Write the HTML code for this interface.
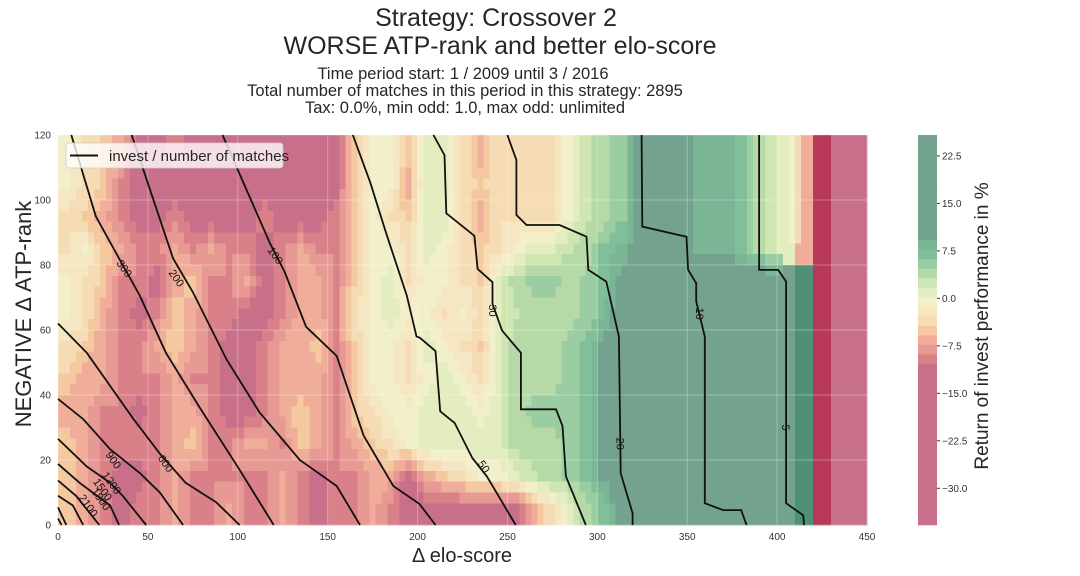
<!DOCTYPE html>
<html><head><meta charset="utf-8">
<style>
body{margin:0;background:#fff;width:1080px;height:576px;overflow:hidden;font-family:"Liberation Sans",Arial,sans-serif;}
svg{display:block}
</style></head>
<body>
<svg id="chart" width="1080" height="576" xmlns="http://www.w3.org/2000/svg">
<g fill="#262626" text-anchor="middle">
<text x="496" y="26" font-size="25">Strategy: Crossover 2</text>
<text x="500" y="54" font-size="25">WORSE ATP-rank and better elo-score</text>
<text x="463" y="79" font-size="16.5">Time period start: 1 / 2009 until 3 / 2016</text>
<text x="465" y="96" font-size="16.5">Total number of matches in this period in this strategy: 2895</text>
<text x="465" y="113" font-size="16.5">Tax: 0.0%, min odd: 1.0, max odd: unlimited</text>
</g>
<g id="cells" shape-rendering="crispEdges"></g>
<g id="grid"></g>
<g id="lines"></g>
<g id="axes"></g>
<g id="cbar"></g>
<g>
<rect x="66" y="143" width="217" height="25" rx="3" fill="#fff" fill-opacity="0.78" stroke="#ccc" stroke-width="0.8"/>
<line x1="70" y1="155.5" x2="98" y2="155.5" stroke="#111" stroke-width="2"/>
<text x="109" y="161" font-size="15" fill="#262626">invest / number of matches</text>
</g>
<text x="462" y="562" font-size="20" fill="#262626" text-anchor="middle">Δ elo-score</text>
<text transform="translate(31,314) rotate(-90)" font-size="22" fill="#262626" text-anchor="middle">NEGATIVE Δ ATP-rank</text>
<text transform="translate(988,326) rotate(-90)" font-size="19" fill="#262626" text-anchor="middle">Return of invest performance in %</text>
</svg>
<script>
// Data: grid of return-% values, rows from top (y 110-120) to bottom (y 0-10), columns x 0..440 step 10
const xCats = [0,10,20,30,40,50,60,70,80,90,100,110,120,130,140,150,160,170,180,190,200,210,220,230,240,250,260,270,280,290,300,310,320,330,340,350,360,370,380,390,400,410,420,430,440];
const yCats = [110,100,90,80,70,60,50,40,30,20,10,0];
const r0 = [-1,-3,-5,-7,-12,-12,-9,-12,-12,-12,-12,-12,-12,-12,-12,-12,-5,-1,-1,-5,1,1,-3,-7,-3,-3,-3,-3,0,3,4,6,12,12,12,8,8,8,5,2,1,-6,-40,-12,-12];
const r1 = [-1,-3,-5,-9,-12,-12,-12,-12,-12,-12,-12,-12,-12,-12,-12,-12,-5,-1,-1,-7,1,1,-3,-5,-3,-3,-3,-3,0,3,4,6,12,12,12,8,8,8,5,2,1,-6,-40,-12,-12];
const r2 = [-3,-5,-7,-9,-12,-12,-9,-12,-12,-12,-12,-9,-12,-12,-12,-9,-5,-1,-3,-5,1,1,-3,-7,-3,-3,-3,-3,0,3,4,6,12,12,12,8,8,8,5,2,1,-6,-40,-12,-12];
const r3 = [-3,-1,-5,-7,-9,-9,-7,-9,-7,-9,-9,-12,-9,-7,-9,-9,-5,-1,-1,-3,1,-1,-3,-5,-3,-1,1,1,3,4,7,8,12,12,12,8,8,8,5,2,1,-6,-40,-12,-12];
const r4 = [-1,-3,-5,-9,-9,-12,-7,-5,-9,-9,-7,-12,-9,-7,-7,-9,-5,-1,1,-3,-1,-1,-3,-5,1,4,5,5,4,5,7,10,12,12,12,12,12,12,12,12,12,30,-40,-12,-12];
const r5 = [-1,-3,-7,-9,-12,-9,-5,-7,-9,-9,-12,-12,-9,-7,-7,-9,-3,-1,1,-1,-1,-3,-1,-3,1,3,4,4,4,5,8,12,12,12,12,12,12,12,12,12,12,30,-40,-12,-12];
const r6 = [-3,-5,-7,-9,-9,-7,-5,-7,-9,-12,-12,-9,-7,-7,-5,-9,-5,-1,-1,-3,1,-1,-3,-5,1,4,4,4,5,7,10,12,12,12,12,12,12,12,12,12,12,30,-40,-12,-12];
const r7 = [-5,-7,-7,-9,-9,-9,-7,-9,-9,-12,-12,-9,-7,-7,-7,-9,-5,-1,-1,-3,-1,1,-1,-3,1,4,4,4,5,7,10,12,12,12,12,12,12,12,12,12,12,30,-40,-12,-12];
const r8 = [-7,-7,-9,-9,-12,-9,-7,-7,-9,-12,-12,-9,-7,-5,-7,-9,-5,-3,-1,-1,1,1,1,-1,1,4,5,5,5,7,10,12,12,12,12,12,12,12,12,12,12,30,-40,-12,-12];
const r9 = [-5,-7,-9,-9,-9,-9,-7,-5,-9,-9,-7,-7,-9,-5,-7,-9,-7,-5,-3,-1,1,1,1,1,1,4,4,4,5,7,10,12,12,12,12,12,12,12,12,12,12,30,-40,-12,-12];
const r10 = [-5,-7,-9,-12,-12,-9,-7,-9,-9,-9,-9,-9,-7,-9,-12,-9,-9,-7,-7,-12,-7,-5,-3,-1,-1,1,3,4,5,7,10,12,12,12,12,12,12,12,12,12,12,30,-40,-12,-12];
const r11 = [-5,-7,-9,-12,-9,-9,-7,-9,-9,-7,-9,-9,-7,-9,-12,-9,-9,-7,-9,-12,-12,-12,-12,-12,-12,-12,-7,-3,1,4,7,12,12,12,12,12,12,12,12,12,12,30,-40,-12,-12];
const grid = [r0,r1,r2,r3,r4,r5,r6,r7,r8,r9,r10,r11];

// contour lines of invest / number of matches: [x, y] pairs in data units
const levelLabels = ["100","200","300","600","900","1200","1500","1800","2100","50","30","20","10","5"];
const c100 = [[91.5,120],[118,86.6],[126,78],[138,61],[155,52],[170,27.5],[186.5,12],[201,6.5],[210,0]];
const c200 = [[41,120],[64,82],[75,71.7],[93.7,51],[112,34.7],[134.5,20],[155,12],[168,0]];
const c300 = [[7.4,120],[21,95],[34,82],[45.5,70.6],[60,53],[79,36],[101,17],[120,0]];
const c600 = [[0,62],[16,53],[42,32.6],[56.6,22],[71,13],[88,7],[101,0]];
const c900 = [[0,38.8],[14,32.6],[28.8,23.4],[45.5,16],[56.6,10],[69.6,0]];
const c1200 = [[0,26.5],[16,18],[29,13],[36,9],[49,0]];
const c1500 = [[0,18.8],[12,13],[29,6],[34,0]];
const c1800 = [[0,13.7],[10,9],[23,0]];
const c2100 = [[0,9],[8.3,6],[14,0]];
const c50 = [[164,120],[173.6,105.5],[183,89],[194,70.6],[199.4,58],[201.3,57.6],[210,53.5],[212.6,35],[220.6,31.4],[230.5,20.6],[238.5,15],[254.6,0]];
const c30 = [[208.8,120],[215,113.8],[216,95.9],[231.6,89],[233.4,78.8],[241.7,74.7],[241.7,68],[247,59.8],[257.5,53],[257.5,35.6],[277,35.6],[280.6,30.5],[282.5,15],[293.6,0]];
const c20 = [[250,120],[255,112.3],[255,95.4],[260.6,92.3],[279,92.3],[294,88.7],[295,78.5],[305,74.9],[312,58],[313,15.9],[319.6,3.6],[319.6,0]];
const c10 = [[324.6,120],[325,91.8],[349.6,88.7],[350.5,78.5],[355,74.4],[355,68.8],[359.8,58],[359.8,6.7],[370,4.6],[380,4.6],[383,0]];
const c5 = [[390,120],[390,78.5],[400.6,78.5],[405,74.9],[405,6.7],[414.5,3],[415,0]];
const c_small1 = [[0,5.4],[4.6,0]];
const c_small2 = [[0,2],[2,0]];
const labelPos = [[121,83],[66,76],[37,79],[60,19],[31,20],[30,13],[25,11],[24,8],[17,6],[237,18],[242,66],[313,25],[357,65],[405,30]];

const xTicks = [0,50,100,150,200,250,300,350,400,450];
const yTicks = [0,20,40,60,80,100,120];
const cbTicks = ["22.5","15.0","7.5","0.0","\u22127.5","\u221215.0","\u221222.5","\u221230.0"];
const cbTickVals = [22.5,15,7.5,0,-7.5,-15,-22.5,-30];

const X0=58,X1=867,Y0=525,Y1=135;
const sx = v => X0 + (v/450)*(X1-X0);
const sy = v => Y0 - (v/120)*(Y0-Y1);
const NS="http://www.w3.org/2000/svg";
function color(v){
  if(v<=-20) return "#b8385a";
  if(v<=-10.5) return "#c8708a";
  if(v<=-9) return "#d98088";
  if(v<=-7.5) return "#e79a94";
  if(v<=-6) return "#f0ae9a";
  if(v<=-4.5) return "#f5c9a0";
  if(v<=-3) return "#f6dcb4";
  if(v<=-1.5) return "#f6e7c3";
  if(v<=0) return "#f2efcb";
  if(v<=1.5) return "#e4edbf";
  if(v<=3) return "#d0e6b2";
  if(v<=4.5) return "#b5daa8";
  if(v<=6) return "#9acda1";
  if(v<=7.5) return "#80bf98";
  if(v<=9) return "#7ab596";
  if(v<30) return "#73a38e";
  return "#4f9176";
}
const nR=yCats.length, nC=xCats.length;
function val(r,c){r=Math.max(0,Math.min(nR-1,r));c=Math.max(0,Math.min(nC-1,c));return grid[r][c];}
const SUB=3;
const cells=document.getElementById('cells');
for(let r=0;r<nR;r++){
  for(let c=0;c<nC;c++){
    for(let i=0;i<SUB;i++){for(let j=0;j<SUB;j++){
      // position in cell-center coords
      const fr=r+(i+0.5)/SUB-0.5, fc=c+(j+0.5)/SUB-0.5;
      const r0i=Math.floor(fr), c0i=Math.floor(fc), tr=fr-r0i, tc=fc-c0i;
      const a=val(r0i,c0i), b=val(r0i,c0i+1), d=val(r0i+1,c0i), e=val(r0i+1,c0i+1);
      let v;
      if([a,b,d,e].some(q=>q<=-20||q>=30)) v=grid[r][c];
      else v=(a*(1-tc)+b*tc)*(1-tr)+(d*(1-tc)+e*tc)*tr;
      const el=document.createElementNS(NS,'rect');
      const x=sx(xCats[c]+10*j/SUB), x2=sx(xCats[c]+10*(j+1)/SUB);
      const y=sy(yCats[r]+10-10*i/SUB), y2=sy(yCats[r]+10-10*(i+1)/SUB);
      el.setAttribute('x',x.toFixed(2));el.setAttribute('y',y.toFixed(2));
      el.setAttribute('width',(x2-x+0.5).toFixed(2));el.setAttribute('height',(y2-y+0.5).toFixed(2));
      el.setAttribute('fill',color(v));
      
      
      cells.appendChild(el);
    }}
  }
}
const g=document.getElementById('grid');
xTicks.forEach(t=>{const l=document.createElementNS(NS,'line');l.setAttribute('x1',sx(t));l.setAttribute('x2',sx(t));l.setAttribute('y1',Y1);l.setAttribute('y2',Y0);l.setAttribute('stroke','#fff');l.setAttribute('stroke-opacity','0.3');


g.appendChild(l);});
yTicks.forEach(t=>{const l=document.createElementNS(NS,'line');l.setAttribute('y1',sy(t));l.setAttribute('y2',sy(t));l.setAttribute('x1',X0);l.setAttribute('x2',X1);l.setAttribute('stroke','#fff');l.setAttribute('stroke-opacity','0.3');


g.appendChild(l);});

const lines=document.getElementById('lines');
[c100,c200,c300,c600,c900,c1200,c1500,c1800,c2100,c50,c30,c20,c10,c5,c_small1,c_small2].forEach(pts=>{
  const p=document.createElementNS(NS,'polyline');
  p.setAttribute('points',pts.map(q=>sx(q[0]).toFixed(1)+','+sy(q[1]).toFixed(1)).join(' '));
  p.setAttribute('fill','none');p.setAttribute('stroke','#111');p.setAttribute('stroke-width','1.8');
  
  
  lines.appendChild(p);
});
levelLabels.forEach((lab,i)=>{
  const t=document.createElementNS(NS,'text');
  const x=sx(labelPos[i][0]), y=sy(labelPos[i][1]);
  const ang = i<10 ? 55 : 90;
  t.setAttribute('transform','translate('+x.toFixed(1)+','+y.toFixed(1)+') rotate('+ang+')');
  t.setAttribute('font-size','11');t.setAttribute('fill','#111');t.setAttribute('text-anchor','middle');t.setAttribute('dy','4');
  t.textContent=lab;
  
  
  lines.appendChild(t);
});

const ax=document.getElementById('axes');
xTicks.forEach(t=>{const e=document.createElementNS(NS,'text');e.setAttribute('x',sx(t));e.setAttribute('y',540);e.setAttribute('font-size','10');e.setAttribute('fill','#333');e.setAttribute('text-anchor','middle');e.textContent=t;


ax.appendChild(e);});
yTicks.forEach(t=>{const e=document.createElementNS(NS,'text');e.setAttribute('x',51);e.setAttribute('y',sy(t)+3.5);e.setAttribute('font-size','10');e.setAttribute('fill','#333');e.setAttribute('text-anchor','end');e.textContent=t;


ax.appendChild(e);});

const cb=document.getElementById('cbar');
const CB0=-35.8, CB1=25.8, CX=918, CW=19;
const cy = v => 525 - (v-CB0)/(CB1-CB0)*390;
for(let v=CB0; v<CB1; v+=1.5){
  const r=document.createElementNS(NS,'rect');
  r.setAttribute('x',CX);r.setAttribute('width',CW);
  r.setAttribute('y',cy(Math.min(v+1.5,CB1)).toFixed(2));r.setAttribute('height',(cy(v)-cy(Math.min(v+1.5,CB1))+0.3).toFixed(2));
  r.setAttribute('fill',color(v+0.75 > -20 ? v+0.75 : -12));
  
  
  cb.appendChild(r);
}
cbTickVals.forEach((v,i)=>{
  const l=document.createElementNS(NS,'line');l.setAttribute('x1',CX+CW);l.setAttribute('x2',CX+CW+3);l.setAttribute('y1',cy(v));l.setAttribute('y2',cy(v));l.setAttribute('stroke','#333');
  
  
  cb.appendChild(l);
  const e=document.createElementNS(NS,'text');e.setAttribute('x',CX+CW+5);e.setAttribute('y',cy(v)+3.5);e.setAttribute('font-size','10');e.setAttribute('fill','#333');e.textContent=cbTicks[i];
  
  
  cb.appendChild(e);
});
</script>
</body></html>
